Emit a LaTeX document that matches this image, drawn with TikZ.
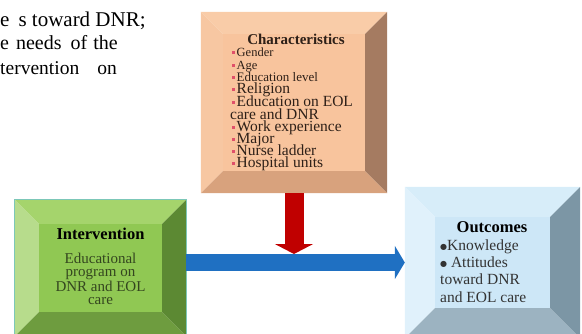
\documentclass[tikz,border=0pt]{standalone}
\usepackage{fontspec}
\setmainfont{Liberation Serif}
\newfontfamily\bulletfont{DejaVu Sans}
\usepackage{xcolor}
\usetikzlibrary{arrows.meta, calc}

% box colours
\definecolor{peachface}{HTML}{F8C49D}
\definecolor{peachtop}{HTML}{F9CCA8}
\definecolor{peachleft}{HTML}{F7C7A2}
\definecolor{peachright}{HTML}{A57B61}
\definecolor{peachbottom}{HTML}{D8A27D}
\definecolor{greenface}{HTML}{90C853}
\definecolor{greentop}{HTML}{A5D46C}
\definecolor{greenleft}{HTML}{B7DC8C}
\definecolor{greenright}{HTML}{5C8933}
\definecolor{greenbottom}{HTML}{6E9C3F}
\definecolor{greenline}{HTML}{7CC7B8}
\definecolor{blueface}{HTML}{CDE7F7}
\definecolor{bluetop}{HTML}{D7EDF9}
\definecolor{blueleft}{HTML}{E0F1FB}
\definecolor{blueright}{HTML}{7C96A5}
\definecolor{bluebottom}{HTML}{9CB3C1}
\definecolor{arrowred}{HTML}{C00000}
\definecolor{arrowblue}{HTML}{1F70C2}
\definecolor{bulletred}{HTML}{E0506A}
\definecolor{intertext}{HTML}{34461F}
\definecolor{chartext}{HTML}{2E2018}

% #1 node, #2 bevel, #3 face, #4 top, #5 left, #6 right, #7 bottom
\newcommand{\bevelbox}[7]{%
  \fill[#4] (#1.north west) -- (#1.north east) -- ($(#1.north east)+(-#2,#2)$) -- ($(#1.north west)+(#2,#2)$) -- cycle;
  \fill[#5] (#1.north west) -- ($(#1.north west)+(#2,#2)$) -- ($(#1.south west)+(#2,-#2)$) -- (#1.south west) -- cycle;
  \fill[#6] (#1.north east) -- (#1.south east) -- ($(#1.south east)+(-#2,-#2)$) -- ($(#1.north east)+(-#2,#2)$) -- cycle;
  \fill[#7] (#1.south west) -- ($(#1.south west)+(#2,-#2)$) -- ($(#1.south east)+(-#2,-#2)$) -- (#1.south east) -- cycle;
  \fill[#3] ($(#1.north west)+(#2,#2)$) rectangle ($(#1.south east)+(-#2,-#2)$);
}
\newcommand{\sqbullet}{\textcolor{bulletred}{\rule[2.5pt]{3pt}{3pt}}\hspace{1.5pt}}
\newcommand{\dotbullet}{{\bulletfont\fontsize{8}{8}\selectfont\raisebox{1pt}{●}}}

\begin{document}
\begin{tikzpicture}[x=1pt, y=-1pt,
    boxnode/.style={rectangle, inner sep=0pt},
    title/.style={font=\fontsize{#1}{#1}\selectfont\bfseries, inner sep=0pt},
    topline/.style={anchor=base west, inner sep=0pt, font=\fontsize{#1}{#1}\selectfont},
    bigarrow/.style={line width=#1}]
  \useasboundingbox (0,0) rectangle (582,333);
  \clip (0,0) rectangle (582,333);

  % text above left (cut off)
  \node[topline=21] (textline1) at (0,26) {e\hspace{9pt}s toward DNR;};
  \node[topline=20] (textline2) at (0,49) {e\hspace{7pt}needs\hspace{9pt}of\hspace{6pt}the};
  \node[topline=19.5] (textline3) at (0,74) {tervention\hspace{18pt}on};

  % boxes
  \node[boxnode, minimum width=186pt, minimum height=181pt] (chars) at (294,102.5) {};
  \node[boxnode, minimum width=171pt, minimum height=136pt] (interv) at (100.5,268) {};
  \node[boxnode, minimum width=175pt, minimum height=151pt] (outcomes) at (492.5,262.5) {};
  \bevelbox{chars}{22}{peachface}{peachtop}{peachleft}{peachright}{peachbottom}
  \bevelbox{interv}{24}{greenface}{greentop}{greenleft}{greenright}{greenbottom}
  \bevelbox{outcomes}{30}{blueface}{bluetop}{blueleft}{blueright}{bluebottom}
  \draw[greenline, line width=1pt] (interv.north west) rectangle (interv.south east);

  % Characteristics
  \node[title=15, text=chartext] (charstitle) at (296,39) {Characteristics};
  \foreach \yy/\fs/\txt in {52/12.5/Gender, 65/12.5/Age, 77/13/Education level,
      89/15.5/Religion, 102/15.5/Education on EOL, 127/15.5/Work experience,
      139/15.5/Major, 151/15.5/Nurse ladder, 163/15.5/Hospital units}{
    \node[anchor=base west, inner sep=0pt, text=chartext, font=\fontsize{\fs}{\fs}\selectfont] (item\yy) at (232,\yy+4.5) {\sqbullet\txt};
  }
  \node[anchor=base west, inner sep=0pt, text=chartext, font=\fontsize{15.5}{15.5}\selectfont] (item115) at (230,119.5) {care and DNR};

  % Intervention
  \node[title=16.5] (intertitle) at (100.5,234) {Intervention};
  \node[align=center, inner sep=0pt, text=intertext, font=\fontsize{15}{13.2}\selectfont] (interbody) at (100.5,279) {Educational\\program on\\DNR and EOL\\care};

  % Outcomes
  \node[title=16.5] (outtitle) at (492,227) {Outcomes};
  \node[anchor=west, align=left, inner sep=0pt, text=black!80, font=\fontsize{15.5}{17.3}\selectfont] (outbody) at (440,271) {\dotbullet Knowledge\\\dotbullet\ Attitudes\\toward DNR\\and EOL care};

  % arrows
  \coordinate (redtip) at (chars.south |- 0,254);
  \draw[bigarrow=17pt, arrowblue, -{Triangle[length=10pt, width=33pt]}] (interv.east |- outcomes.west) -- (outcomes.west);
  \draw[bigarrow=19pt, arrowred, -{Triangle[length=10pt, width=38pt]}] (chars.south) -- (redtip);
\end{tikzpicture}
\end{document}
